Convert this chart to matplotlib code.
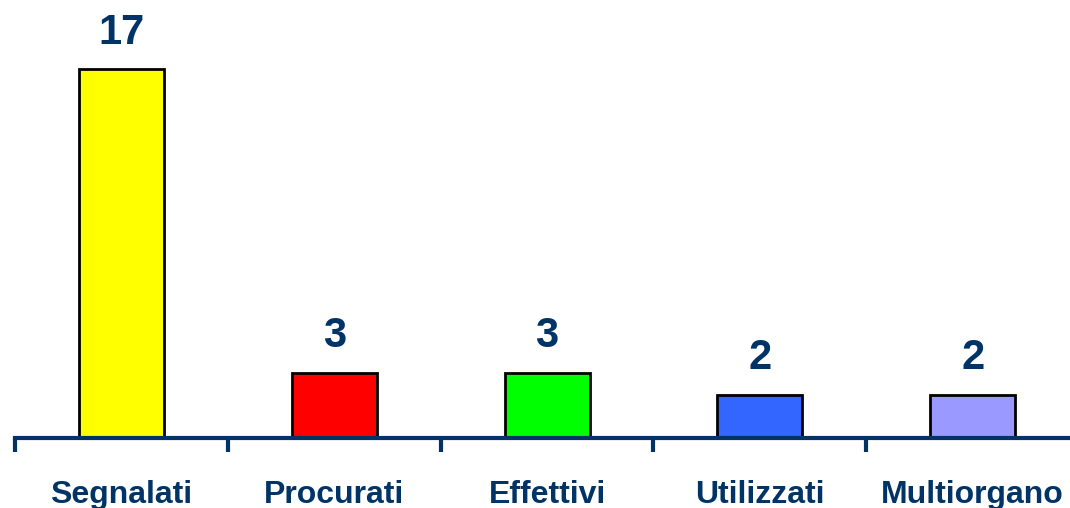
import matplotlib
matplotlib.use("Agg")
import matplotlib.pyplot as plt
import numpy as np

categories = ["Segnalati", "Procurati", "Effettivi", "Utilizzati", "Multiorgano"]
values = [17, 3, 3, 2, 2]
colors = ["#FFFF00", "#FF0000", "#00FF00", "#3366FF", "#9999FF"]

navy = "#003366"
plt.rcParams['font.family'] = ['Liberation Sans', 'DejaVu Sans']

fig = plt.figure(figsize=(10.70, 5.08), dpi=100)
ax = fig.add_axes([15/1070, 70/508, 1055/1070, 438/508])

x = np.arange(len(categories))
bars = ax.bar(x, values, width=0.4, color=colors, edgecolor="black", linewidth=2, zorder=2)

for xi, v in zip(x, values):
    ax.annotate(str(v), (xi, v), xytext=(0, 12), textcoords="offset points",
                ha="center", va="bottom", fontsize=30, fontweight="bold", color=navy)

ax.set_xlim(-0.5, 4.457)
ax.set_ylim(0, 20.2)

for s in ["top", "right", "left"]:
    ax.spines[s].set_visible(False)
ax.spines["bottom"].set_color(navy)
ax.spines["bottom"].set_linewidth(3)
ax.spines["bottom"].set_zorder(3)

ax.set_yticks([])
ax.set_xticks(x)
ax.set_xticklabels(categories, fontsize=23, fontweight="bold", color=navy)
ax.tick_params(axis="x", which="major", length=0, pad=30)
ax.set_xticks(np.arange(-0.5, 4.0, 1.0), minor=True)
ax.tick_params(axis="x", which="minor", length=10, width=3, color=navy, direction="out")

fig.savefig("out.png", dpi=100)
